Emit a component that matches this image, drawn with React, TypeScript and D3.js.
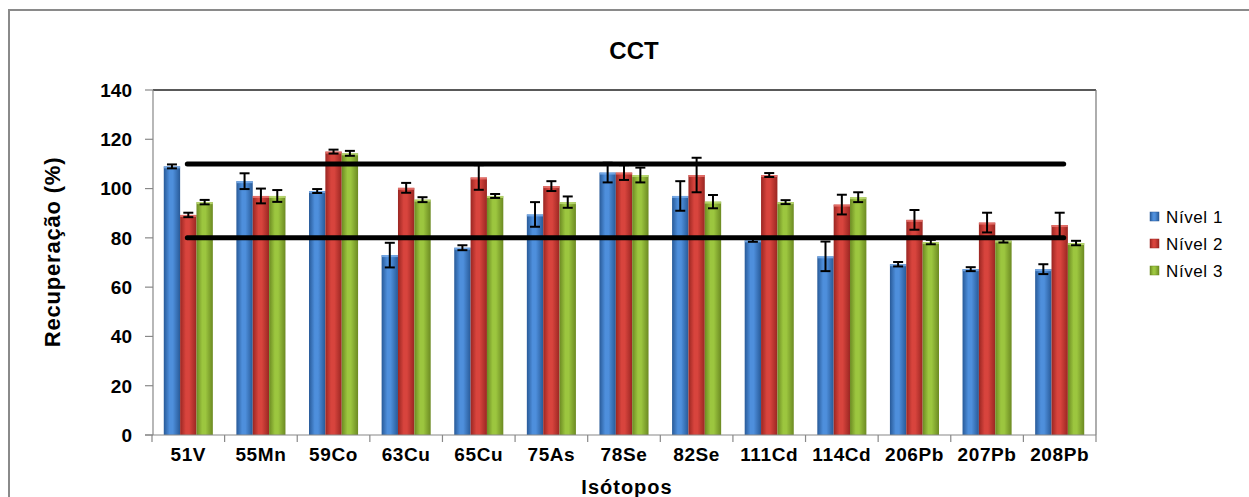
import React from "react";
import * as d3 from "d3";

const categories = ["51V","55Mn","59Co","63Cu","65Cu","75As","78Se","82Se","111Cd","114Cd","206Pb","207Pb","208Pb"];
const seriesNames = ["Nível 1","Nível 2","Nível 3"];
const nivel1 = [109, 103, 99, 73, 76, 89.5, 106.5, 97, 79, 72.5, 69.3, 67.3, 67.3];
const nivel2 = [89.3, 97, 115, 100.3, 104.5, 101, 106.5, 105.5, 105.5, 93.5, 87.3, 86.2, 85.2];
const nivel3 = [94.5, 97, 114.3, 95.5, 97, 94.5, 105.5, 94.7, 94.5, 96.5, 78.3, 78.9, 77.9];
const err1 = [0.8, 3.2, 0.8, 5, 1, 5, 4, 6, 0.6, 6, 0.9, 0.8, 2];
const err2 = [0.9, 3, 0.8, 2, 5, 2, 3, 7, 0.8, 4, 4, 4, 5];
const err3 = [0.9, 2.4, 1, 1, 0.8, 2.3, 3, 2.7, 0.8, 2, 0.9, 0.8, 0.9];
const yTicks = [0, 20, 40, 60, 80, 100, 120, 140];
const limits = [80, 110];

const values = [nivel1, nivel2, nivel3];
const errors = [err1, err2, err3];
const colors = [
  { edge: "#285a98", mid: "#4e8fdc", light: "#7fb2ee" },
  { edge: "#9a2622", mid: "#d8443d", light: "#ec7b74" },
  { edge: "#6c8a22", mid: "#9cc63f", light: "#c2e07a" },
];

export default function App() {
  const W = 1249, H = 497;
  const left = 153, right = 1096, top = 90, bottom = 435;
  const x0 = d3.scaleBand<string>().domain(categories).range([left - 1, right]).padding(0);
  const x1 = d3.scaleBand<string>().domain(seriesNames).range([0, x0.step()]).paddingInner(0).paddingOuter(0.72);
  const y = d3.scaleLinear().domain([0, 140]).range([bottom, top]);
  const bw = x1.bandwidth();
  const font = "Arial, 'Liberation Sans', sans-serif";

  return (
    <svg width={W} height={H} style={{ position: "absolute", left: 0, top: 0, background: "#fff" }} fontFamily={font}>
      <defs>
        {colors.map((c, i) => (
          <linearGradient key={i} id={`g${i}`} x1="0" x2="1" y1="0" y2="0">
            <stop offset="0" stopColor={c.edge} />
            <stop offset="0.35" stopColor={c.mid} />
            <stop offset="0.55" stopColor={c.mid} />
            <stop offset="1" stopColor={c.edge} />
          </linearGradient>
        ))}
      </defs>
      <rect x={0} y={0} width={W} height={H} fill="#fff" />
      <rect x={9} y={10} width={1260} height={520} fill="none" stroke="#8a8a8a" strokeWidth={2} />
      <text x={634} y={59} textAnchor="middle" fontSize={24} fontWeight="bold" fill="#000">CCT</text>

      {/* plot border top and right */}
      <line x1={left} x2={right} y1={top} y2={top} stroke="#222" strokeWidth={1.5} />
      <line x1={right} x2={right} y1={top} y2={bottom} stroke="#777" strokeWidth={1.2} />

      {/* bars */}
      {values.map((vals, si) => (
        <g key={si}>
          {vals.map((v, ci) => {
            const bx = (x0(categories[ci]) as number) + (x1(seriesNames[si]) as number);
            return (
              <g key={ci}>
                <rect x={bx} y={y(v)} width={bw} height={bottom - y(v)} fill={`url(#g${si})`} />
                <rect x={bx} y={y(v)} width={bw} height={2} fill={colors[si].light} opacity={0.8} />
              </g>
            );
          })}
        </g>
      ))}

      {/* error bars */}
      {values.map((vals, si) => (
        <g key={"e" + si} stroke="#000" strokeWidth={2}>
          {vals.map((v, ci) => {
            const cx = (x0(categories[ci]) as number) + (x1(seriesNames[si]) as number) + bw / 2;
            const e = errors[si][ci];
            return (
              <g key={ci}>
                <line x1={cx} x2={cx} y1={y(v + e)} y2={y(v - e)} />
                <line x1={cx - 5} x2={cx + 5} y1={y(v + e)} y2={y(v + e)} />
                <line x1={cx - 5} x2={cx + 5} y1={y(v - e)} y2={y(v - e)} />
              </g>
            );
          })}
        </g>
      ))}

      {/* limit lines */}
      {limits.map((l) => (
        <line key={l}
          x1={(x0(categories[0]) as number) + x0.bandwidth() / 2 - 1}
          x2={(x0(categories[categories.length - 1]) as number) + x0.bandwidth() / 2 + 4}
          y1={y(l)} y2={y(l)} stroke="#000" strokeWidth={5} strokeLinecap="round" />
      ))}

      {/* y axis */}
      <line x1={left} x2={left} y1={top} y2={bottom} stroke="#888" strokeWidth={1.2} />
      {yTicks.map((t) => (
        <g key={t}>
          <line x1={left - 8} x2={left} y1={y(t)} y2={y(t)} stroke="#888" strokeWidth={1.2} />
          <text x={132} y={y(t)} dy="0.36em" textAnchor="end" fontSize={19} fontWeight="bold" fill="#000">{t}</text>
        </g>
      ))}
      {/* x axis */}
      <line x1={left - 8} x2={right} y1={bottom} y2={bottom} stroke="#888" strokeWidth={1.2} />
      {categories.map((c, i) => (
        <g key={c}>
          <line x1={x0(c) as number} x2={x0(c) as number} y1={bottom} y2={bottom + 7} stroke="#888" strokeWidth={1.2} />
          <text x={(x0(c) as number) + x0.bandwidth() / 2} y={461} textAnchor="middle" fontSize={19} fontWeight="bold" letterSpacing={0.6} fill="#000">{c}</text>
        </g>
      ))}
      <line x1={right} x2={right} y1={bottom} y2={bottom + 7} stroke="#888" strokeWidth={1.2} />

      <text x={627} y={494} textAnchor="middle" fontSize={20} fontWeight="bold" letterSpacing={1} fill="#000">Isótopos</text>
      <text transform={`translate(60,${252}) rotate(-90)`} textAnchor="middle" fontSize={22} fontWeight="bold" letterSpacing={0.8} fill="#000">Recuperação (%)</text>

      {/* legend */}
      {seriesNames.map((s, i) => (
        <g key={s} transform={`translate(1150,${217 + i * 27})`}>
          <rect x={0} y={-5} width={9} height={9} fill={`url(#g${i})`} stroke={colors[i].edge} strokeWidth={0.5} />
          <text x={16} y={0} dy="0.36em" fontSize={17} fill="#000" letterSpacing={0.6}>{s}</text>
        </g>
      ))}
    </svg>
  );
}
